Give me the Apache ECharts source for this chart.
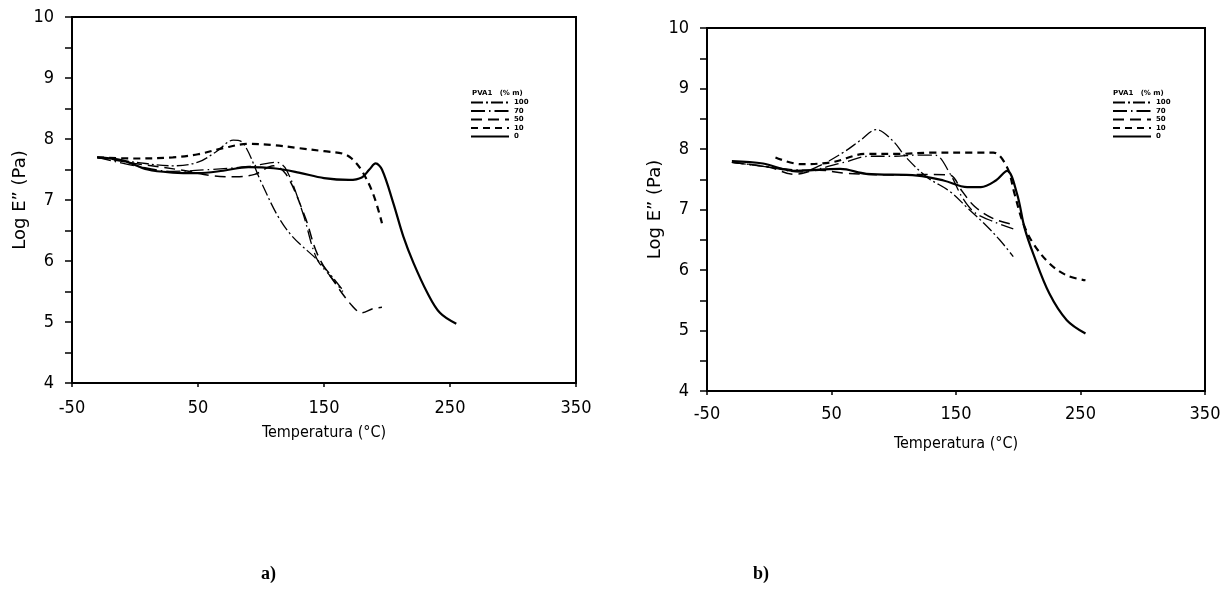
<!DOCTYPE html>
<html>
<head>
<meta charset="utf-8">
<script src="https://cdn.jsdelivr.net/npm/echarts@6/dist/echarts.min.js"></script>
<style>
  html, body { margin: 0; padding: 0; background: #fff; }
  #chart { width: 1225px; height: 591px; }
</style>
</head>
<body>
<div id="chart"></div>
<script>
// ---------- Data (Temperature °C, Log E'' Pa) ----------
const seriesNames = ['100', '70', '50', '10', '0'];
const xTickLabels = [-50, 50, 150, 250, 350];
const yTickLabels = [4, 5, 6, 7, 8, 9, 10];

// Panel a)
const aT100 = [-30, 0, 30, 50, 65, 78, 86, 100, 113, 125, 147, 165];
const aV100 = [7.7, 7.62, 7.56, 7.62, 7.8, 7.98, 7.93, 7.3, 6.75, 6.4, 5.97, 5.52];
const aT70 = [-30, 0, 30, 60, 90, 105, 112, 120, 133, 144, 155, 165];
const aV70 = [7.7, 7.56, 7.47, 7.5, 7.55, 7.6, 7.62, 7.5, 6.8, 6.05, 5.75, 5.5];
const aT50 = [-30, 0, 40, 60, 80, 95, 110, 120, 135, 145, 160, 173, 180, 189, 196];
const aV50 = [7.7, 7.6, 7.48, 7.4, 7.38, 7.42, 7.56, 7.42, 6.72, 6.1, 5.6, 5.25, 5.15, 5.22, 5.24];
const aT10 = [-30, 0, 30, 50, 70, 90, 110, 130, 150, 165, 172, 180, 189, 196];
const aV10 = [7.7, 7.68, 7.7, 7.75, 7.85, 7.92, 7.9, 7.85, 7.8, 7.76, 7.68, 7.48, 7.1, 6.62];
const aT0 = [-30, -10, 10, 30, 50, 70, 90, 110, 130, 150, 170, 180, 186, 191, 196, 205, 213, 221, 232, 242, 255];
const aV0 = [7.7, 7.65, 7.5, 7.45, 7.44, 7.48, 7.54, 7.52, 7.45, 7.36, 7.33, 7.37, 7.5, 7.6, 7.5, 6.95, 6.4, 5.97, 5.48, 5.15, 4.97];

// Panel b)
const bT100 = [-30, 0, 25, 40, 60, 73, 86, 99, 110, 127, 145, 159, 172, 185, 196];
const bV100 = [7.78, 7.7, 7.62, 7.72, 7.95, 8.14, 8.32, 8.14, 7.86, 7.53, 7.3, 7.03, 6.78, 6.5, 6.22];
const bT70 = [-30, 0, 30, 60, 80, 100, 120, 133, 145, 155, 165, 180, 196];
const bV70 = [7.78, 7.7, 7.65, 7.78, 7.88, 7.88, 7.9, 7.9, 7.6, 7.2, 6.95, 6.8, 6.68];
const bT50 = [-30, 0, 20, 40, 60, 80, 100, 130, 145, 155, 165, 180, 196];
const bV50 = [7.78, 7.7, 7.58, 7.65, 7.6, 7.58, 7.57, 7.58, 7.57, 7.3, 7.05, 6.85, 6.75];
const bT10 = [5, 25, 50, 78, 105, 131, 160, 180, 191, 197, 204, 212, 225, 239, 254];
const bV10 = [7.86, 7.75, 7.78, 7.92, 7.92, 7.94, 7.94, 7.94, 7.7, 7.26, 6.77, 6.44, 6.11, 5.91, 5.83];
const bT0 = [-30, -5, 19, 57, 78, 119, 140, 159, 170, 182, 191, 199, 205, 212, 225, 239, 254];
const bV0 = [7.8, 7.76, 7.64, 7.67, 7.59, 7.56, 7.48, 7.37, 7.37, 7.48, 7.64, 7.26, 6.7, 6.27, 5.61, 5.17, 4.95];

// ---------- Build ----------
const zip = (t, v) => t.map((x, i) => [x, v[i]]);
const aData = [zip(aT100, aV100), zip(aT70, aV70), zip(aT50, aV50), zip(aT10, aV10), zip(aT0, aV0)];
const bData = [zip(bT100, bV100), zip(bT70, bV70), zip(bT50, bV50), zip(bT10, bV10), zip(bT0, bV0)];

const styles = [
  { type: [12, 3, 2, 3], width: 1.3 },
  { type: [14, 4, 1.5, 4], width: 1.3 },
  { type: [11, 6], width: 1.5 },
  { type: [7, 5], width: 2.2 },
  { type: 'solid', width: 2.2 }
];

const tickFont = { fontFamily: 'Liberation Sans Narrow, DejaVu Sans Condensed, sans-serif', fontSize: 18, color: '#000' };
const nameFont = { fontFamily: 'DejaVu Sans Condensed, DejaVu Sans, sans-serif', fontSize: 16, color: '#000' };

function xAxis(grid, gap, margin) {
  return {
    type: 'value', gridIndex: grid, min: -50, max: 350,
    name: 'Temperatura (°C)', nameLocation: 'middle', nameGap: gap, nameTextStyle: nameFont,
    axisLine: { show: true, onZero: false, lineStyle: { color: '#000', width: 2 } },
    axisTick: { show: true, customValues: xTickLabels, length: 4, lineStyle: { color: '#000', width: 1.5 } },
    axisLabel: Object.assign({ customValues: xTickLabels, margin: margin }, tickFont),
    splitLine: { show: false }
  };
}
function yAxis(grid) {
  return {
    type: 'value', gridIndex: grid, min: 4, max: 10, interval: 1,
    name: 'Log E\u201D (Pa)', nameLocation: 'middle', nameGap: 42,
    nameTextStyle: { fontFamily: 'DejaVu Sans, sans-serif', fontSize: 18, color: '#000' },
    axisLine: { show: true, onZero: false, lineStyle: { color: '#000', width: 2 } },
    axisTick: { show: true, length: 7, lineStyle: { color: '#000', width: 1.5 } },
    minorTick: { show: true, splitNumber: 2, length: 7, lineStyle: { color: '#000', width: 1.5 } },
    axisLabel: Object.assign({ margin: 18 }, tickFont),
    splitLine: { show: false }, minorSplitLine: { show: false }
  };
}

const series = [];
[aData, bData].forEach((panel, p) => {
  panel.forEach((d, i) => {
    series.push({
      name: seriesNames[i], type: 'line', xAxisIndex: p, yAxisIndex: p,
      data: d, showSymbol: false, symbol: 'none', symbolSize: 0, smooth: 0.35,
      color: '#000',
      itemStyle: { color: '#000' },
      lineStyle: { color: '#000', width: styles[i].width, type: styles[i].type },
      emphasis: { disabled: true }, silent: true, animation: false
    });
  });
});

function legend(left, top) {
  return {
    data: seriesNames, left: left, top: top, orient: 'vertical',
    itemWidth: 38, itemHeight: 5, itemGap: 1.5, selectedMode: false,
    itemStyle: { opacity: 0 },
    textStyle: { fontSize: 7, fontWeight: 'bold', color: '#000', fontFamily: 'DejaVu Sans', width: 18, align: 'right', lineHeight: 6 },
    padding: 0
  };
}

const chart = echarts.init(document.getElementById('chart'), null, { renderer: 'canvas' });
chart.setOption({
  backgroundColor: '#fff',
  animation: false,
  color: ['#000'],
  grid: [
    { left: 72, top: 17, width: 504, height: 366, show: true, borderColor: '#000', borderWidth: 2, backgroundColor: 'transparent' },
    { left: 707, top: 28, width: 498, height: 363, show: true, borderColor: '#000', borderWidth: 2, backgroundColor: 'transparent' }
  ],
  xAxis: [xAxis(0, 42, 16), xAxis(1, 45, 14)],
  yAxis: [yAxis(0), yAxis(1)],
  legend: [legend(470, 99), legend(1112, 99)],
  series: series,
  graphic: [
    { type: 'text', left: 472, top: 90, style: { text: 'PVA1   (% m)', font: 'bold 7px DejaVu Sans', fill: '#000' } },
    { type: 'text', left: 1113, top: 90, style: { text: 'PVA1   (% m)', font: 'bold 7px DejaVu Sans', fill: '#000' } },
    { type: 'text', left: 261, top: 565, style: { text: 'a)', font: 'bold 18px Liberation Serif', fill: '#000' } },
    { type: 'text', left: 753, top: 565, style: { text: 'b)', font: 'bold 18px Liberation Serif', fill: '#000' } }
  ]
});
</script>
</body>
</html>
